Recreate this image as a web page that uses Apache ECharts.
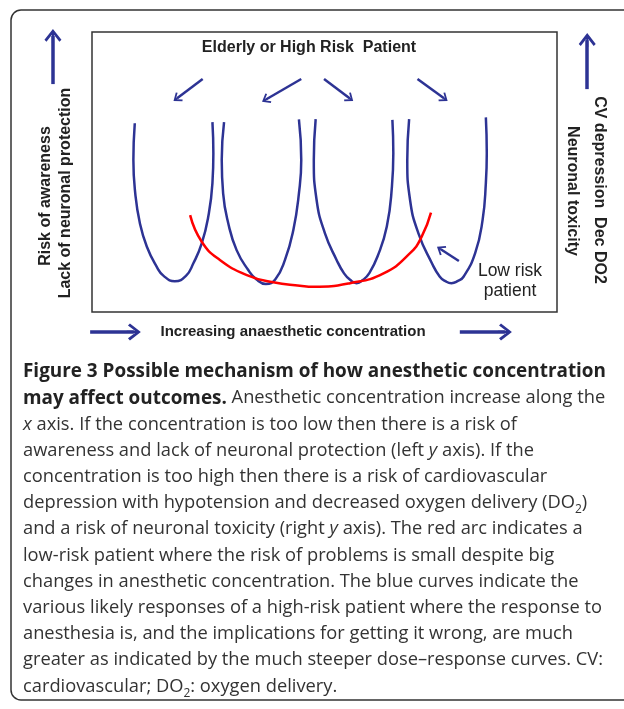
<!DOCTYPE html>
<html>
<head>
<meta charset="utf-8">
<script src="https://cdn.jsdelivr.net/npm/echarts@6/dist/echarts.min.js"></script>
<style>
  html, body { margin: 0; padding: 0; background: #ffffff; }
  #chart { width: 624px; height: 709px; }
</style>
</head>
<body>
<div id="chart"></div>
<script>
// ---- Data (x: anaesthetic concentration 0-100, y: risk 0-100) ----
const highRiskCurve1 = [[9.2,67.4],[8.9,54.3],[9.3,42.4],[10.3,31.7],[11.8,23.3],[13.9,16.2],[15.4,12.9],[17.8,11.0],[20.2,12.9],[21.8,17.4],[23.6,24.5],[25.0,34.0],[25.9,46.0],[26.1,56.7],[25.9,67.8]];
const highRiskCurve2 = [[28.4,67.8],[27.9,54.3],[28.2,42.4],[29.3,31.7],[31.1,22.1],[33.6,15.0],[35.4,11.6],[37.4,10.0],[39.4,11.6],[41.5,18.6],[43.3,29.3],[44.5,42.4],[45.0,54.3],[44.5,68.8]];
const highRiskCurve3 = [[48.1,68.9],[47.7,54.3],[48.3,40.0],[50.1,28.1],[52.6,18.6],[54.2,13.8],[55.5,11.5],[56.9,10.3],[58.3,11.5],[59.6,13.8],[61.4,19.8],[63.4,30.5],[64.5,44.8],[64.8,56.7],[64.6,68.6]];
const highRiskCurve4 = [[68.2,68.9],[67.8,54.3],[68.4,40.0],[70.2,28.1],[73.1,17.4],[74.8,12.6],[76.0,11.0],[77.3,10.3],[78.6,11.0],[79.9,12.6],[82.4,21.0],[84.0,32.9],[84.7,46.0],[84.9,56.7],[84.7,69.5]];
const lowRiskArc = [[21.1,34.6],[23.6,25.1],[27.5,18.6],[33.3,13.2],[39.0,10.6],[44.7,9.4],[47.6,9.0],[55.5,10.3],[62.7,13.8],[68.4,21.0],[70.9,26.9],[72.9,35.5]];

// annotation arrows (start, end) in the same data units
const patientArrows = [
  [[23.8,83.2],[18.3,76.3]],
  [[45.0,83.2],[37.4,75.9]],
  [[49.9,83.2],[55.4,76.3]],
  [[70.0,83.2],[75.7,76.3]],
  [[78.9,18.2],[75.0,22.4]]
];
const axisArrows = [
  [[-8.4,81.4],[-8.4,98.6]],
  [[106.5,79.6],[106.5,97.1]],
  [[-0.4,-7.1],[9.0,-7.1]],
  [[79.1,-7.1],[88.8,-7.1]]
];

// texts
const titleText = 'Elderly or High Risk  Patient';
const xAxisText = 'Increasing anaesthetic concentration';
const leftAxisTexts = ['Risk of awareness', 'Lack of neuronal protection'];
const rightAxisTexts = ['CV depression  Dec DO2', 'Neuronal toxicity'];
const lowRiskTexts = ['Low risk', 'patient'];
const captionLines = [
  [['b','Figure 3 Possible mechanism of how anesthetic concentration']],
  [['b','may affect outcomes.'],['n',' Anesthetic concentration increase along the']],
  [['i','x'],['n',' axis. If the concentration is too low then there is a risk of']],
  [['n','awareness and lack of neuronal protection (left '],['i','y'],['n',' axis). If the']],
  [['n','concentration is too high then there is a risk of cardiovascular']],
  [['n','depression with hypotension and decreased oxygen delivery (DO'],['s','2'],['n',')']],
  [['n','and a risk of neuronal toxicity (right '],['i','y'],['n',' axis). The red arc indicates a']],
  [['n','low-risk patient where the risk of problems is small despite big']],
  [['n','changes in anesthetic concentration. The blue curves indicate the']],
  [['n','various likely responses of a high-risk patient where the response to']],
  [['n','anesthesia is, and the implications for getting it wrong, are much']],
  [['n','greater as indicated by the much steeper dose\u2013response curves. CV:']],
  [['n','cardiovascular; DO'],['s','2'],['n',': oxygen delivery.']]
];

// ---- Styling ----
const BLUE = '#2d3394';
const RED = '#ff0000';
const INK = '#222222';
const CAP = '#333333';
const CHART_FONT = '"Liberation Sans", Arial, sans-serif';
const CAP_FONT = '"Open Sans", "Noto Sans", sans-serif';
const HEAD = 'path://M50,0 L100,78 L88,92 L56,42 L56,100 L44,100 L44,42 L12,92 L0,78 Z';

const chart = echarts.init(document.getElementById('chart'), null, { renderer: 'canvas' });

function curveSeries(data, color) {
  return {
    type: 'line', data: data, smooth: 0.5, symbol: 'none', silent: true,
    lineStyle: { color: color, width: 2.5 }, z: 3
  };
}

const capRich = {
  b: { fontFamily: CAP_FONT, fontSize: 18.9, fontWeight: 'bold', fill: '#222', lineHeight: 26 },
  n: { fontFamily: CAP_FONT, fontSize: 18.3, fill: CAP, lineHeight: 26 },
  i: { fontFamily: CAP_FONT, fontSize: 18.3, fontStyle: 'italic', fill: CAP, lineHeight: 26 },
  s: { fontFamily: CAP_FONT, fontSize: 12, fill: CAP, lineHeight: 14, verticalAlign: 'bottom' }
};

const graphics = [
  { type: 'rect', shape: { x: 11, y: 10, width: 660, height: 690, r: 10 },
    style: { fill: 'none', stroke: '#333', lineWidth: 1.5 }, z: -1, silent: true },
  { type: 'text', x: 309, y: 48, style: { text: titleText, font: 'bold 16px ' + CHART_FONT, fill: INK, align: 'center', verticalAlign: 'middle' } },
  { type: 'text', x: 293, y: 332, style: { text: xAxisText, font: 'bold 15px ' + CHART_FONT, fill: INK, align: 'center', verticalAlign: 'middle' } },
  { type: 'text', x: 46, y: 196, rotation: Math.PI / 2, style: { text: leftAxisTexts[0], font: 'bold 16px ' + CHART_FONT, fill: INK, align: 'center', verticalAlign: 'middle' } },
  { type: 'text', x: 66, y: 193, rotation: Math.PI / 2, style: { text: leftAxisTexts[1], font: 'bold 16px ' + CHART_FONT, fill: INK, align: 'center', verticalAlign: 'middle' } },
  { type: 'text', x: 599, y: 190, rotation: -Math.PI / 2, style: { text: rightAxisTexts[0], font: 'bold 16px ' + CHART_FONT, fill: INK, align: 'center', verticalAlign: 'middle' } },
  { type: 'text', x: 572, y: 191, rotation: -Math.PI / 2, style: { text: rightAxisTexts[1], font: 'bold 16px ' + CHART_FONT, fill: INK, align: 'center', verticalAlign: 'middle' } },
  { type: 'text', x: 510, y: 271, style: { text: lowRiskTexts[0], font: '17.5px ' + CHART_FONT, fill: INK, align: 'center', verticalAlign: 'middle' } },
  { type: 'text', x: 510, y: 291, style: { text: lowRiskTexts[1], font: '17.5px ' + CHART_FONT, fill: INK, align: 'center', verticalAlign: 'middle' } }
];

captionLines.forEach(function (segs, i) {
  const txt = segs.map(function (s) { return '{' + s[0] + '|' + s[1] + '}'; }).join('');
  graphics.push({
    type: 'text', x: 23, y: 372 + i * 26.2,
    style: { text: txt, rich: capRich, align: 'left', verticalAlign: 'middle' }
  });
});

chart.setOption({
  animation: false,
  backgroundColor: '#ffffff',
  grid: { left: 92, top: 32, width: 465, height: 280, show: true, borderColor: '#333', borderWidth: 1.5, backgroundColor: 'transparent' },
  xAxis: { type: 'value', min: 0, max: 100, show: false },
  yAxis: { type: 'value', min: 0, max: 100, show: false },
  series: [
    curveSeries(highRiskCurve1, BLUE),
    curveSeries(highRiskCurve2, BLUE),
    curveSeries(highRiskCurve3, BLUE),
    curveSeries(highRiskCurve4, BLUE),
    curveSeries(lowRiskArc, RED),
    {
      type: 'lines', coordinateSystem: 'cartesian2d', clip: false, silent: true,
      symbol: ['none', HEAD], symbolSize: [[1, 1], [11, 9]],
      lineStyle: { color: BLUE, width: 2.5, opacity: 1, curveness: 0 },
      data: patientArrows.map(function (a) { return { coords: a }; }), z: 4
    },
    {
      type: 'lines', coordinateSystem: 'cartesian2d', clip: false, silent: true,
      symbol: ['none', HEAD], symbolSize: [[1, 1], [17, 14]],
      lineStyle: { color: BLUE, width: 3.5, opacity: 1, curveness: 0 },
      data: axisArrows.map(function (a) { return { coords: a }; }), z: 4
    }
  ],
  graphic: graphics
});
</script>
</body>
</html>
